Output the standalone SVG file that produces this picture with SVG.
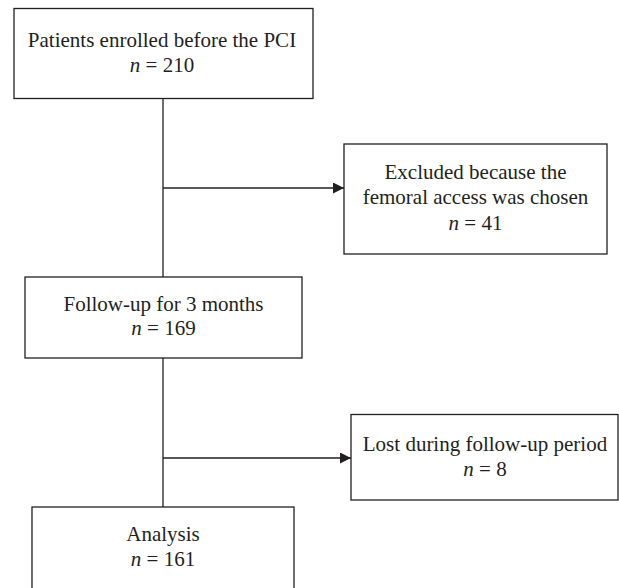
<svg xmlns="http://www.w3.org/2000/svg" width="619" height="588" viewBox="0 0 619 588">
<style>
.box{fill:#fff;stroke:#231f20;stroke-width:1.3}
.ln{stroke:#231f20;stroke-width:1.3;fill:none}
text{font-family:"Liberation Serif","Times New Roman",serif;font-size:21px;fill:#231f20;text-anchor:middle}
.i{font-style:italic}
</style>
<defs>
<marker id="ah" markerWidth="12" markerHeight="12" refX="11" refY="5.5" orient="auto" markerUnits="userSpaceOnUse">
<path d="M0,0 L11,5.5 L0,11 Z" fill="#231f20"/>
</marker>
</defs>
<rect width="619" height="588" fill="#fff"/>
<g id="connectors">
<line class="ln" x1="163" y1="98" x2="163" y2="277"/>
<line class="ln" x1="163" y1="188" x2="344" y2="188" marker-end="url(#ah)"/>
<line class="ln" x1="163" y1="358" x2="163" y2="507"/>
<line class="ln" x1="163" y1="458" x2="351" y2="458" marker-end="url(#ah)"/>
</g>
<g id="enrolled">
<rect class="box" x="14" y="8.5" width="299" height="90"/>
<text x="162" y="47">Patients enrolled before the PCI</text>
<text x="162" y="72"><tspan class="i">n</tspan> = 210</text>
</g>
<g id="excluded">
<rect class="box" x="344" y="144" width="263" height="110"/>
<text x="475.5" y="179">Excluded because the</text>
<text x="475.5" y="204">femoral access was chosen</text>
<text x="475.5" y="229.5"><tspan class="i">n</tspan> = 41</text>
</g>
<g id="followup">
<rect class="box" x="25" y="277" width="277" height="81"/>
<text x="163.5" y="310.5">Follow-up for 3 months</text>
<text x="163.5" y="335"><tspan class="i">n</tspan> = 169</text>
</g>
<g id="lost">
<rect class="box" x="351" y="414.5" width="267" height="85.5"/>
<text x="485" y="451">Lost during follow-up period</text>
<text x="485" y="475.5"><tspan class="i">n</tspan> = 8</text>
</g>
<g id="analysis">
<rect class="box" x="32" y="507" width="262" height="100"/>
<text x="163" y="541">Analysis</text>
<text x="163" y="566"><tspan class="i">n</tspan> = 161</text>
</g>
</svg>
